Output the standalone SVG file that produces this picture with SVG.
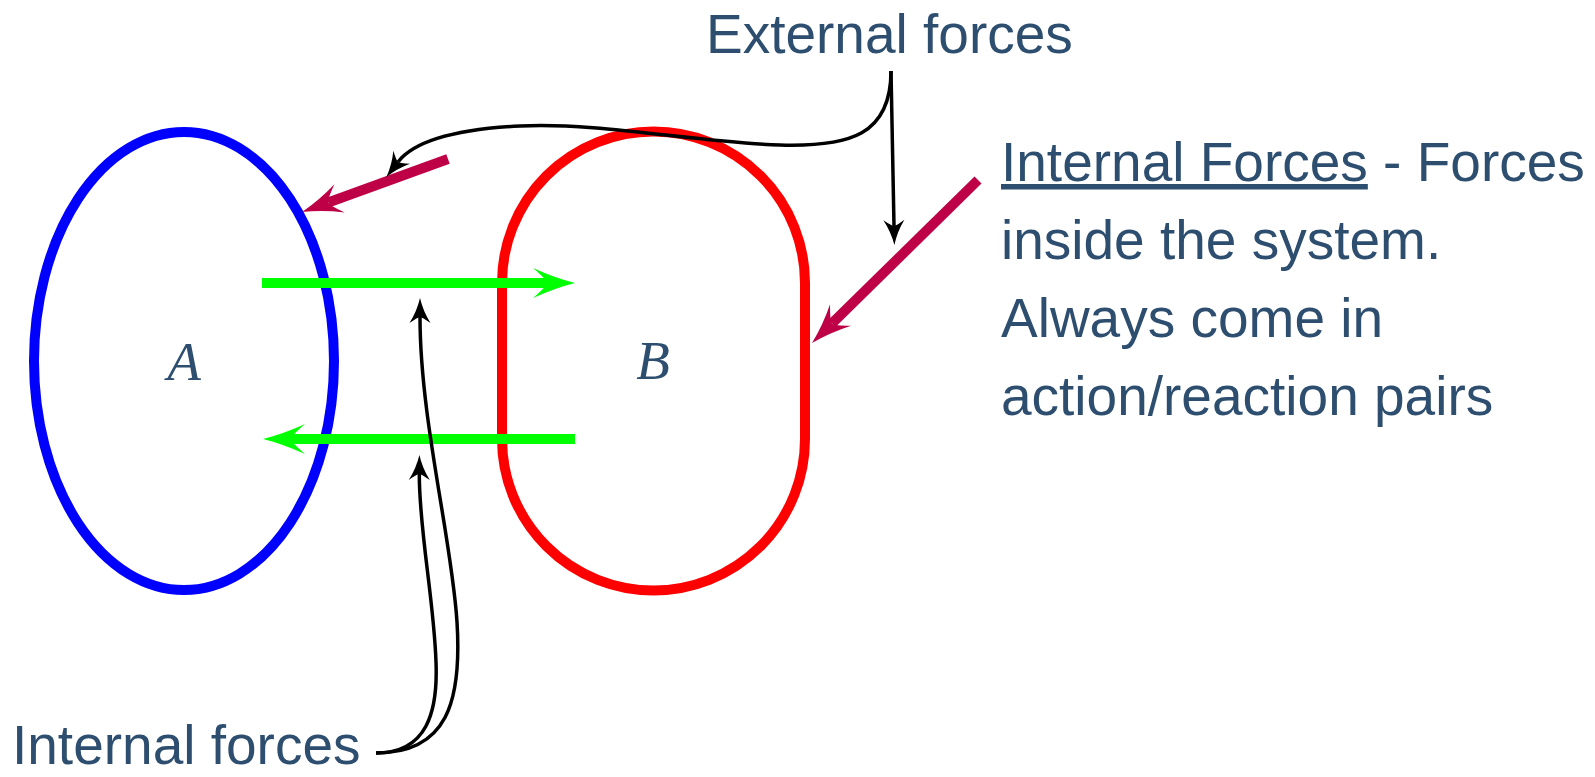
<svg xmlns="http://www.w3.org/2000/svg" width="1595" height="777" viewBox="0 0 1595 777">
<style>
.lbl{font-family:"Liberation Sans",Arial,sans-serif;font-size:55px;fill:#2D4E6F}
.math{font-family:"Liberation Serif","Times New Roman",serif;font-style:italic;font-size:55px;fill:#2D4E6F;text-anchor:middle}
.green{stroke:#00FF00;stroke-width:10;fill:none}
.mag{stroke:#BE0046;stroke-width:10;fill:none}
.blk{stroke:#000;stroke-width:3.5;fill:none}
</style>
<defs>
<marker id="hg" markerUnits="userSpaceOnUse" orient="auto" refX="0" refY="0" markerWidth="100" markerHeight="100" overflow="visible">
<path d="M28,0 Q8,-5 -14,-15 Q0,-3 0,0 Q0,3 -14,15 Q8,5 28,0 Z" fill="#00FF00"/>
</marker>
<marker id="hm" markerUnits="userSpaceOnUse" orient="auto" refX="0" refY="0" markerWidth="100" markerHeight="100" overflow="visible">
<path d="M28,0 Q8,-5 -12,-15 Q0,-3 0,0 Q0,3 -12,15 Q8,5 28,0 Z" fill="#BE0046"/>
</marker>
<marker id="hb" markerUnits="userSpaceOnUse" orient="auto" refX="0" refY="0" markerWidth="60" markerHeight="60" overflow="visible">
<path d="M19,0 Q6,-3 -6,-10.5 Q0,-2 0,0 Q0,2 -6,10.5 Q6,3 19,0 Z" fill="#000"/>
</marker>
</defs>
<rect width="1595" height="777" fill="#fff"/>
<g id="nodeA">
<ellipse cx="184" cy="361" rx="150" ry="229" fill="none" stroke="#0000FF" stroke-width="10"/>
<text class="math" x="184" y="380">A</text>
</g>
<g id="nodeB">
<path d="M502,283 A151.5,151.5 0 0 1 805,283 L805,439 A151.5,151.5 0 0 1 502,439 Z" fill="none" stroke="#FF0000" stroke-width="10"/>
<text class="math" x="653" y="379">B</text>
</g>
<g id="connectors">
<path class="green" d="M262,283 L547,283" marker-end="url(#hg)"/>
<path class="green" d="M575,439 L291,439" marker-end="url(#hg)"/>
<path class="mag" d="M448,159 L328.3,202.5" marker-end="url(#hm)"/>
<path class="mag" d="M978,180 L832,323.4" marker-end="url(#hm)"/>
<path class="blk" d="M891,71 C891,135 850,147 780,145 C700,143 600,122 520,126 C460,129 415,140 398,162" marker-end="url(#hb)"/>
<path class="blk" d="M891,71 L894,226" marker-end="url(#hb)"/>
<path class="blk" d="M376,753 C427,753 438,712 436,662 C434,600 419,530 419.3,474" marker-end="url(#hb)"/>
<path class="blk" d="M376,753 C447,753 462,702 457,622 C452,540 420,420 420,317" marker-end="url(#hb)"/>
</g>
<g id="label-external">
<text class="lbl" x="706" y="53">External forces</text>
</g>
<g id="label-internal">
<text class="lbl" x="12" y="764">Internal forces</text>
</g>
<g id="label-description">
<text class="lbl" x="1001" y="181"><tspan text-decoration="underline">Internal Forces</tspan> - Forces</text>
<text class="lbl" x="1001" y="259">inside the system.</text>
<text class="lbl" x="1001" y="337">Always come in</text>
<text class="lbl" x="1001" y="415">action/reaction pairs</text>
</g>
</svg>
